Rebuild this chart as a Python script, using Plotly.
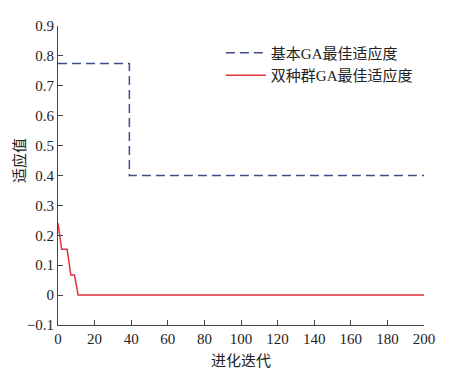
import plotly.graph_objects as go

# Data
basic_x = [0, 39, 39, 200]
basic_y = [0.775, 0.775, 0.4, 0.4]
dual_x = [0, 2, 5, 7, 9, 11, 200]
dual_y = [0.24, 0.153, 0.153, 0.067, 0.067, 0.0, 0.0]
x_ticks = [0, 20, 40, 60, 80, 100, 120, 140, 160, 180, 200]
y_ticks = [-0.1, 0, 0.1, 0.2, 0.3, 0.4, 0.5, 0.6, 0.7, 0.8, 0.9]
y_tick_labels = ["\u22120.1", "0", "0.1", "0.2", "0.3", "0.4", "0.5", "0.6", "0.7", "0.8", "0.9"]
x_title = "进化迭代"
y_title = "适应值"

FONT = "Liberation Serif, Times New Roman, Noto Sans CJK SC, serif"

fig = go.Figure()
fig.add_trace(go.Scatter(x=basic_x, y=basic_y, mode="lines", name="基本GA最佳适应度",
                         line=dict(color="#404c8a", width=1.5, dash="9px,5px")))
fig.add_trace(go.Scatter(x=dual_x, y=dual_y, mode="lines", name="双种群GA最佳适应度",
                         line=dict(color="#e0323c", width=1.5)))

fig.update_layout(
    width=467, height=371,
    margin=dict(l=58, r=43, t=26, b=46),
    paper_bgcolor="white", plot_bgcolor="white",
    font=dict(family=FONT, size=15, color="#222222"),
    showlegend=True,
    legend=dict(x=0.445, y=0.965, xanchor="left", yanchor="top",
                bgcolor="rgba(0,0,0,0)", font=dict(size=15),
                tracegroupgap=0, itemwidth=40),
    xaxis=dict(range=[0, 200], tickvals=x_ticks, ticks="inside", ticklen=5,
               showline=True, linecolor="#444", linewidth=1, tickcolor="#444",
               showgrid=False, zeroline=False),
    yaxis=dict(range=[-0.1, 0.9], tickvals=y_ticks, ticktext=y_tick_labels,
               ticks="inside", ticklen=5,
               showline=True, linecolor="#444", linewidth=1, tickcolor="#444",
               showgrid=False, zeroline=False),
    annotations=[
        dict(text=x_title, xref="paper", yref="paper", x=0.5, y=-0.12,
             xanchor="center", yanchor="middle", showarrow=False, font=dict(size=15)),
        dict(text=y_title, xref="paper", yref="paper", x=-0.104, y=0.552,
             xanchor="center", yanchor="middle", showarrow=False, textangle=-90,
             font=dict(size=15)),
    ],
)

fig.write_html("out.html", post_script="document.body.style.margin='0';",
               config={"displayModeBar": False})
